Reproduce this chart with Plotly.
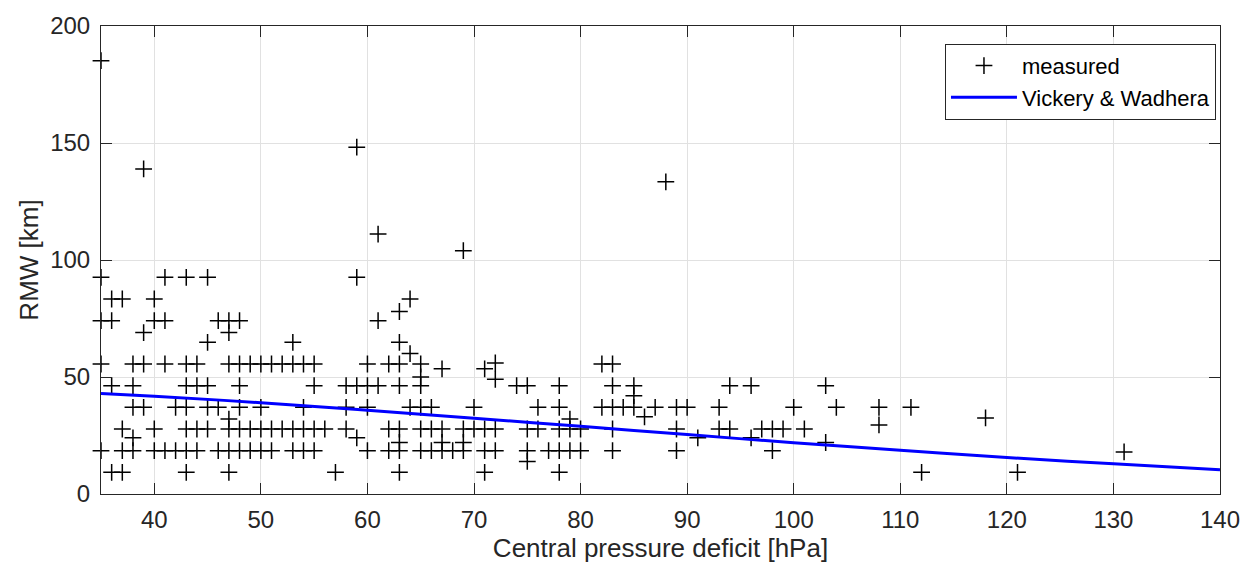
import plotly.graph_objects as go

# ---- data ----
# RMW levels (km) with the central pressure deficits (hPa) measured at each
rmw_levels = [9.26, 18.52, 27.78, 37.04, 46.3, 55.56, 64.82, 74.08, 83.34, 92.6]
dp_at_9 = [36, 37, 43, 47, 57, 63, 71, 78, 112, 121]
dp_at_19 = [35, 37, 38, 40, 41, 42, 43, 44, 46, 47, 48, 49, 50, 51, 53, 54, 55,
            60, 62, 63, 65, 66, 67, 68, 69, 71, 72, 75, 77, 78, 79, 80, 83, 89, 98]
dp_at_28 = [37, 40, 43, 44, 45, 47, 48, 49, 50, 51, 52, 53, 54, 55, 56, 58, 62, 63,
            65, 66, 67, 69, 70, 71, 72, 75, 76, 78, 79, 80, 83, 89, 93, 94, 97, 98, 99, 101]
dp_at_37 = [38, 39, 42, 43, 45, 46, 48, 50, 54, 58, 60, 64, 65, 66, 70, 76, 78, 82,
            83, 84, 85, 87, 89, 90, 93, 100, 104, 108, 111]
dp_at_46 = [36, 38, 43, 44, 45, 48, 55, 58, 59, 60, 61, 63, 65, 74, 75, 78, 83, 85,
            94, 96, 103]
dp_at_56 = [35, 38, 39, 41, 43, 44, 47, 48, 49, 50, 51, 52, 53, 54, 55, 60, 62, 63,
            65, 82, 83]
dp_at_65 = [45, 53, 63]
dp_at_74 = [35, 36, 40, 41, 46, 47, 48, 61]
dp_at_83 = [36, 37, 40, 64]
dp_at_93 = [35, 41, 43, 45, 59]

# measurements off the regular levels
other_dp = [35, 39, 59, 61, 69, 88, 39, 47, 63, 64, 67, 71, 72, 72, 65, 85, 86, 79,
            47, 38, 59, 91, 96, 103, 118, 108, 75, 131, 63, 67, 69]
other_rmw = [185.2, 138.9, 148.2, 111.1, 104.0, 133.4, 69.0, 69.0, 78.0, 60.0, 53.5,
             53.5, 56.0, 49.0, 50.0, 42.0, 33.0, 32.0, 32.0, 24.0, 24.0, 24.0, 24.0,
             22.0, 32.5, 29.5, 13.9, 18.0, 22.0, 22.0, 22.0]

# Vickery & Wadhera curve
vw_dp = [35, 40, 50, 60, 70, 80, 90, 100, 110, 120, 130, 140]
vw_rmw = [43.0, 41.8, 39.0, 35.8, 32.4, 28.9, 25.4, 21.9, 18.7, 15.6, 12.9, 10.4]

x_ticks = [40, 50, 60, 70, 80, 90, 100, 110, 120, 130, 140]
y_ticks = [0, 50, 100, 150, 200]

# ---- assemble ----
rows = [dp_at_9, dp_at_19, dp_at_28, dp_at_37, dp_at_46, dp_at_56, dp_at_65,
        dp_at_74, dp_at_83, dp_at_93]
meas_dp, meas_rmw = [], []
for lvl, row in zip(rmw_levels, rows):
    meas_dp += row
    meas_rmw += [lvl] * len(row)
meas_dp += other_dp
meas_rmw += other_rmw

FONT = "Liberation Sans, Arial, Helvetica, sans-serif"
AX = "#262626"

fig = go.Figure()
fig.add_trace(go.Scatter(
    x=meas_dp, y=meas_rmw, mode="markers", name="measured", cliponaxis=False,
    marker=dict(symbol="cross-thin", size=12, color="black",
                line=dict(color="black", width=1.5)),
))
fig.add_trace(go.Scatter(
    x=vw_dp, y=vw_rmw, mode="lines", name="Vickery & Wadhera",
    line=dict(color="#0000ff", width=3, shape="spline"),
))

axis_common = dict(
    showline=True, linecolor=AX, linewidth=1, mirror="ticks",
    ticks="inside", ticklen=11, tickwidth=1, tickcolor=AX,
    showgrid=True, gridcolor="#e1e1e1", gridwidth=1, zeroline=False,
    tickfont=dict(family=FONT, size=24, color=AX),
)

fig.update_layout(
    width=1253, height=578,
    margin=dict(l=101, r=33, t=18, b=84),
    paper_bgcolor="white", plot_bgcolor="white",
    font=dict(family=FONT, color=AX),
    xaxis=dict(range=[35, 140], tickvals=x_ticks, ticklabelstandoff=4,
               title=dict(text="Central pressure deficit [hPa]",
                          font=dict(family=FONT, size=26, color=AX), standoff=4),
               **axis_common),
    yaxis=dict(range=[0, 200], tickvals=y_ticks, ticklabelstandoff=5,
               title=dict(text="RMW [km]",
                          font=dict(family=FONT, size=26, color=AX), standoff=4),
               **axis_common),
    legend=dict(x=0.9964, y=0.962, xanchor="right", yanchor="top",
                bordercolor=AX, borderwidth=1, bgcolor="white",
                font=dict(family=FONT, size=22, color="black"),
                tracegroupgap=0, itemwidth=66),
    showlegend=True,
)

fig.write_html("out.html")
